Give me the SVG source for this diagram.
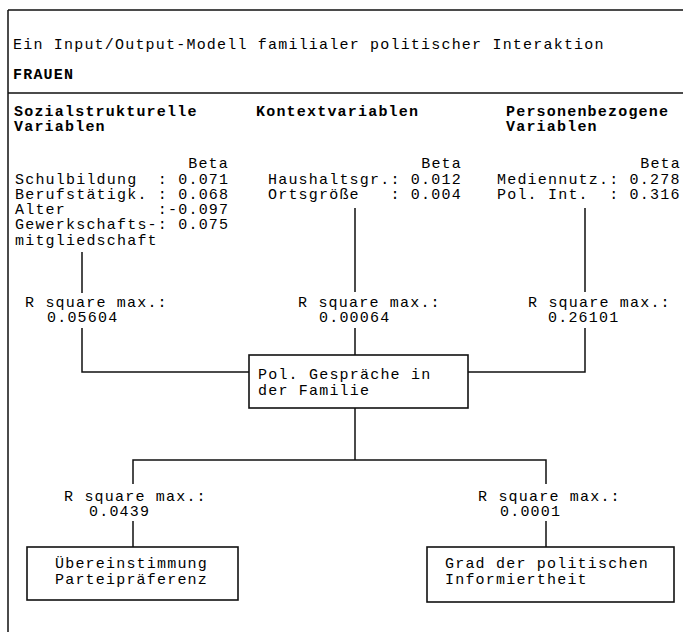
<svg xmlns="http://www.w3.org/2000/svg" width="683" height="632" viewBox="0 0 683 632" xml:space="preserve">
<style>
text{font-family:"Liberation Mono","Courier New",monospace;font-size:15px;letter-spacing:1.2px;fill:#000;white-space:pre}
.b{font-weight:bold}
.ln{stroke:#111;stroke-width:1.5;fill:none}
.box{stroke:#111;stroke-width:1.6;fill:#fff}
</style>
<rect width="683" height="632" fill="#fff"/>
<g id="frame" class="ln">
<path d="M8 10 H683 M8 10 V632 M8 93 H683"/>
</g>
<g id="header">
<text x="13" y="49">Ein Input/Output-Modell familialer politischer Interaktion</text>
<text class="b" x="13" y="79">FRAUEN</text>
</g>
<g id="sozial">
<text class="b" x="14" y="116">Sozialstrukturelle</text>
<text class="b" x="14" y="131">Variablen</text>
<text x="229" y="168" text-anchor="end">Beta</text>
<text x="15" y="184">Schulbildung  : 0.071</text>
<text x="15" y="199">Berufstätigk. : 0.068</text>
<text x="15" y="214">Alter         :-0.097</text>
<text x="15" y="229">Gewerkschafts-: 0.075</text>
<text x="15" y="245">mitgliedschaft</text>
</g>
<g id="kontext">
<text class="b" x="256" y="116">Kontextvariablen</text>
<text x="462" y="168" text-anchor="end">Beta</text>
<text x="268" y="184">Haushaltsgr.: 0.012</text>
<text x="268" y="199">Ortsgröße   : 0.004</text>
</g>
<g id="person">
<text class="b" x="506" y="116">Personenbezogene</text>
<text class="b" x="506" y="131">Variablen</text>
<text x="681" y="168" text-anchor="end">Beta</text>
<text x="497" y="184">Mediennutz.: 0.278</text>
<text x="497" y="199">Pol. Int.  : 0.316</text>
</g>
<g id="rsq-sozial">
<text x="25" y="307">R square max.:</text>
<text x="47" y="322">0.05604</text>
</g>
<g id="rsq-kontext">
<text x="298" y="307">R square max.:</text>
<text x="319" y="322">0.00064</text>
</g>
<g id="rsq-person">
<text x="528" y="307">R square max.:</text>
<text x="548" y="322">0.26101</text>
</g>
<g id="connectors" class="ln">
<path d="M82 252 V293 M82 328 V372 H249"/>
<path d="M355 208 V292 M355 328 V355"/>
<path d="M585 208 V292 M585 328 V372 H468"/>
<path d="M355 408 V460 M133 484 V460 H546 V484"/>
<path d="M133 521 V547 M546 521 V547"/>
</g>
<g id="gespraeche">
<rect class="box" x="249" y="355" width="219" height="53"/>
<text x="258" y="379">Pol. Gespräche in</text>
<text x="258" y="395">der Familie</text>
</g>
<g id="rsq-partei">
<text x="64" y="501">R square max.:</text>
<text x="89" y="516">0.0439</text>
</g>
<g id="rsq-info">
<text x="478" y="501">R square max.:</text>
<text x="500" y="516">0.0001</text>
</g>
<g id="partei">
<rect class="box" x="27" y="547" width="211" height="53"/>
<text x="55" y="568">Übereinstimmung</text>
<text x="55" y="584">Parteipräferenz</text>
</g>
<g id="info">
<rect class="box" x="427" y="547" width="247" height="55"/>
<text x="445" y="568">Grad der politischen</text>
<text x="445" y="584">Informiertheit</text>
</g>
</svg>
